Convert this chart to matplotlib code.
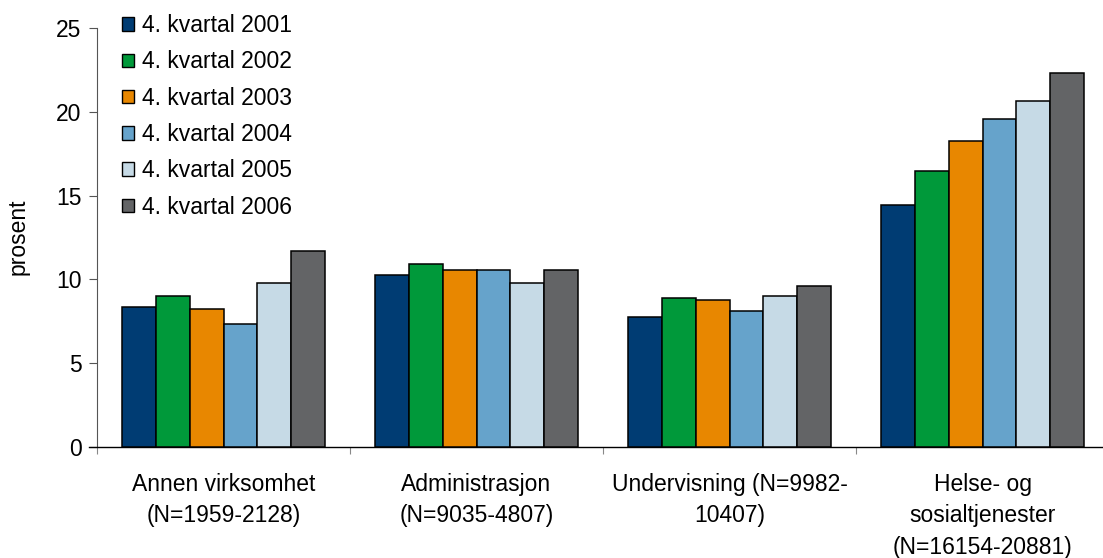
import matplotlib
matplotlib.use("Agg")
import matplotlib.pyplot as plt
import numpy as np

plt.rcParams['font.family'] = ['Liberation Sans', 'DejaVu Sans']

categories = [
    "Annen virksomhet\n(N=1959-2128)",
    "Administrasjon\n(N=9035-4807)",
    "Undervisning (N=9982-\n10407)",
    "Helse- og\nsosialtjenester\n(N=16154-20881)",
]
series_labels = ["4. kvartal 2001", "4. kvartal 2002", "4. kvartal 2003",
                 "4. kvartal 2004", "4. kvartal 2005", "4. kvartal 2006"]
values_2001 = [8.35, 10.28, 7.77, 14.45]
values_2002 = [9.03, 10.94, 8.89, 16.45]
values_2003 = [8.21, 10.58, 8.79, 18.25]
values_2004 = [7.34, 10.58, 8.11, 19.60]
values_2005 = [9.80, 9.80, 9.03, 20.65]
values_2006 = [11.71, 10.58, 9.58, 22.30]
series_values = [values_2001, values_2002, values_2003,
                 values_2004, values_2005, values_2006]
colors = ["#003C73", "#00993A", "#E88700", "#66A3CB", "#C6DAE6", "#636466"]
y_ticks = [0, 5, 10, 15, 20, 25]

FS = 16.5

fig = plt.figure(figsize=(11.03, 5.58), dpi=100)
# axes spans past the right edge so the baseline runs to the border
ax = fig.add_axes([97 / 1103, 1 - 447 / 558, 1012 / 1103, 419 / 558])

n = len(series_values)
x = np.arange(len(categories))
bw = 0.8 / n
for i, (vals, lab, col) in enumerate(zip(series_values, series_labels, colors)):
    ax.bar(x - 0.4 + bw * (i + 0.5), vals, width=bw, color=col,
           edgecolor="black", linewidth=1.1, label=lab, zorder=3)

ax.set_xlim(-0.5, len(categories) - 0.5)
ax.set_ylim(0, 25)
ax.set_yticks(y_ticks)
ax.tick_params(axis="y", labelsize=FS, length=6, width=0.8, color="#555555",
               pad=5)
fig.text(18 / 1103, 1 - 237 / 558, "prosent", rotation=90, fontsize=FS,
         ha="center", va="center")

# category boundaries as ticks, names centred under each group
ax.set_xticks(np.arange(len(categories) + 1) - 0.5)
ax.set_xticklabels([])
ax.tick_params(axis="x", which="major", length=5, width=0.8, color="#888888")
for xi, name in zip(x, categories):
    ax.annotate(name, xy=(xi, 0), xycoords=("data", "axes fraction"),
                xytext=(0, -18.5), textcoords="offset points",
                ha="center", va="top", fontsize=FS, linespacing=1.48)

for s in ["top", "right"]:
    ax.spines[s].set_visible(False)
ax.spines["left"].set_color("#555555")
ax.spines["left"].set_linewidth(0.8)
ax.spines["bottom"].set_color("black")
ax.spines["bottom"].set_linewidth(1.0)
ax.spines["bottom"].set_bounds(-0.53, len(categories) - 0.5)

leg = ax.legend(loc="upper left", bbox_to_anchor=(0.016, 1.055), frameon=False,
                fontsize=FS, handlelength=0.52, handleheight=0.52,
                handletextpad=0.35, labelspacing=0.58, borderaxespad=0)
for h in leg.legend_handles:
    h.set_linewidth(1.0)

fig.savefig("out.png", dpi=100)
